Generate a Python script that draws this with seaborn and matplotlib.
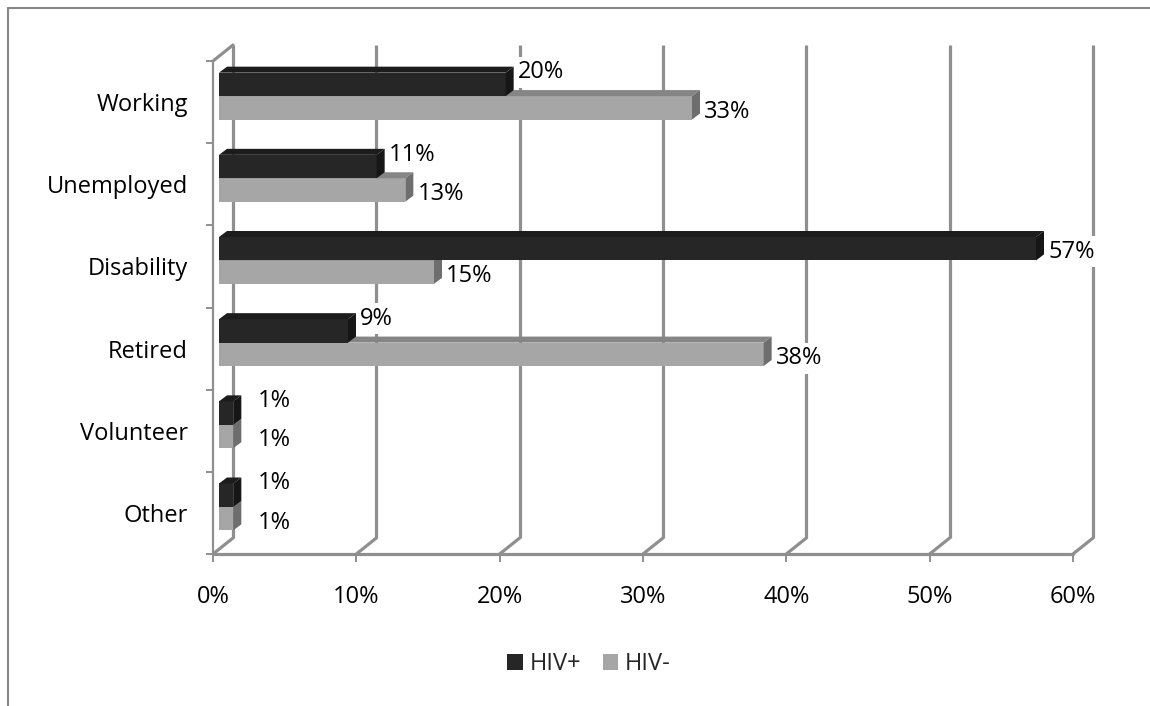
import numpy as np
import pandas as pd
import seaborn as sns
import matplotlib.pyplot as plt
from matplotlib.patches import Polygon, Patch
from matplotlib.lines import Line2D
from matplotlib.transforms import ScaledTranslation

sns.set_theme(style="white")
plt.rcParams["font.family"] = ["Open Sans", "DejaVu Sans"]

categories = ["Working", "Unemployed", "Disability", "Retired", "Volunteer", "Other"]
series = ["HIV+", "HIV-"]
hiv_pos = [20, 11, 57, 9, 1, 1]
hiv_neg = [33, 13, 15, 38, 1, 1]
x_ticks = [0, 10, 20, 30, 40, 50, 60]

dark, light = "#262626", "#a6a6a6"
faces = {"HIV+": ("#1c1c1c", "#161616"), "HIV-": ("#858585", "#6e6e6e")}
grid_c = "#8f8f8f"
fs = 17

df = pd.DataFrame({
    "category": categories * 2,
    "status": [series[0]] * len(categories) + [series[1]] * len(categories),
    "share": hiv_pos + hiv_neg,
})

W, H = 1150, 706
fig = plt.figure(figsize=(W / 100, H / 100), dpi=100)
ax = fig.add_axes([213 / W, 1 - 554 / H, 860 / W, 493 / H])

sns.barplot(data=df, x="share", y="category", hue="status", hue_order=series,
            palette=[dark, light], width=0.57, saturation=1, errorbar=None,
            legend=False, ax=ax, linewidth=0)

ax.set_xlim(0, 60)
ax.set_ylim(len(categories) - 0.5, -0.5)
sx = 60 / 860   # data units per pixel
sy = len(categories) / 493
for s in ax.spines.values():
    s.set_visible(False)

# back wall gridlines with floor diagonals (3D look)
gdx, gdy = 20 * sx, 16 * sy
bottom, top = len(categories) - 0.5, -0.5
for x in x_ticks:
    ax.plot([x + gdx, x + gdx], [bottom - gdy, top - gdy], color=grid_c, lw=2.3,
            zorder=1, clip_on=False, solid_capstyle="butt")
    ax.plot([x, x + gdx], [bottom, bottom - gdy], color=grid_c, lw=2.3,
            zorder=1, clip_on=False)
# left wall / front axes
ax.plot([0, 0], [bottom, top], color=grid_c, lw=1.6, zorder=2, clip_on=False)
ax.plot([0, gdx], [top, top - gdy], color=grid_c, lw=2.3, zorder=1, clip_on=False)
ax.plot([0, 60], [bottom, bottom], color=grid_c, lw=2.3, zorder=2, clip_on=False)

# bars sit mid-depth: shift, then add top and side faces
off = ax.transData + ScaledTranslation(6 / 100, 6 / 100, fig.dpi_scale_trans)
ddx, ddy = 8 * sx, 6 * sy
for container, name, z in [(ax.containers[1], "HIV-", 3), (ax.containers[0], "HIV+", 5)]:
    top_c, side_c = faces[name]
    for p in container.patches:
        p.set_transform(off)
        p.set_zorder(z)
        x0, y0, w, h = p.get_x(), p.get_y(), p.get_width(), p.get_height()
        x1, y1 = x0 + w, y0 + h
        ax.add_patch(Polygon([(x0, y0), (x1, y0), (x1 + ddx, y0 - ddy), (x0 + ddx, y0 - ddy)],
                             closed=True, facecolor=top_c, edgecolor="none",
                             transform=off, zorder=z, clip_on=False))
        ax.add_patch(Polygon([(x1, y0), (x1, y1), (x1 + ddx, y1 - ddy), (x1 + ddx, y0 - ddy)],
                             closed=True, facecolor=side_c, edgecolor="none",
                             transform=off, zorder=z, clip_on=False))

# data labels
for i in range(len(categories)):
    for j, vals in enumerate([hiv_pos, hiv_neg]):
        other = hiv_neg if j == 0 else hiv_pos
        yc = i + (-0.1425 if j == 0 else 0.1425) - 6 * sy
        if j == 0:
            yc += (-12 if other[i] >= vals[i] else 3) * sy
        else:
            yc += 4 * sy
        gap = 18 if vals[i] > 2 else 30
        ax.text(vals[i] + gap * sx, yc, f"{vals[i]}%", fontsize=fs, va="center",
                ha="left", color="black", zorder=8,
                bbox=dict(boxstyle="square,pad=0.15", facecolor="white", edgecolor="none"))

ax.set_xticks(x_ticks)
ax.set_xticklabels([f"{v}%" for v in x_ticks])
ax.set_yticks(range(len(categories)))
ax.set_yticklabels(categories)
ax.set_yticks(np.arange(-0.5, len(categories), 1), minor=True)
ax.tick_params(axis="y", which="major", length=0, pad=18, labelsize=fs, labelcolor="black")
ax.tick_params(axis="y", which="minor", length=5, width=1.4, color=grid_c, left=True)
ax.tick_params(axis="x", which="major", length=6, width=1.4, color=grid_c, bottom=True,
               pad=16, labelsize=fs, labelcolor="black")
ax.set_xlabel(None)
ax.set_ylabel(None)
ax.grid(False)

handles = [Patch(facecolor=dark, edgecolor="none"), Patch(facecolor=light, edgecolor="none")]
fig.legend(handles, series, loc="center", bbox_to_anchor=(589 / W, 1 - 664 / H), ncol=2,
           frameon=False, fontsize=fs, handlelength=0.65, handleheight=0.65,
           handletextpad=0.3, columnspacing=0.9)

# chart frame
fig.add_artist(Line2D([8 / W, 1], [1 - 8 / H, 1 - 8 / H], color="#878787", lw=1.5))
fig.add_artist(Line2D([8 / W, 8 / W], [0, 1 - 8 / H], color="#878787", lw=1.5))

fig.savefig("out.png", dpi=100)
